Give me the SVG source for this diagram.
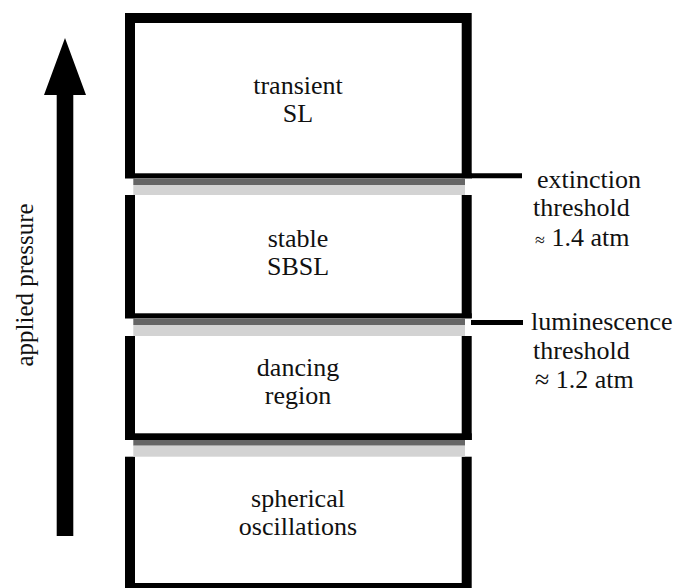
<svg xmlns="http://www.w3.org/2000/svg" width="676" height="588" viewBox="0 0 676 588">
<style>
.t{font-family:'Liberation Serif','DejaVu Serif',serif;font-size:26px;fill:#111;}
.c{text-anchor:middle;}
.dk{fill:#666;}
.lt{fill:#d3d3d3;}
.bk{fill:#000;}
</style>
<rect width="676" height="588" fill="#fff"/>
<g id="frame">
<rect x="130" y="18" width="336.7" height="570" fill="none" stroke="#000" stroke-width="10"/>
</g>
<g id="divider1">
<rect x="124" y="178.3" width="350" height="16.7" fill="#fff"/>
<rect class="bk" x="125" y="173.3" width="346.7" height="5"/>
<rect class="dk" x="133.3" y="178.3" width="331.7" height="6.7"/>
<rect class="lt" x="133.3" y="185" width="331.7" height="10"/>
</g>
<g id="divider2">
<rect x="124" y="318.3" width="350" height="17.7" fill="#fff"/>
<rect class="bk" x="125" y="313.3" width="346.7" height="5"/>
<rect class="dk" x="133.3" y="318.3" width="331.7" height="6.7"/>
<rect class="lt" x="133.3" y="325" width="331.7" height="11"/>
</g>
<g id="divider3">
<rect x="124" y="440" width="350" height="16.7" fill="#fff"/>
<rect class="bk" x="125" y="433.3" width="346.7" height="6.7"/>
<rect class="dk" x="133.3" y="440" width="331.7" height="5.7"/>
<rect class="lt" x="133.3" y="445.7" width="331.7" height="11"/>
</g>
<g id="connectors">
<line x1="471" y1="175.8" x2="522" y2="175.8" stroke="#000" stroke-width="5"/>
<line x1="471" y1="322.5" x2="523" y2="322.5" stroke="#000" stroke-width="5"/>
</g>
<g id="arrow">
<polygon class="bk" points="65,38 86,95 73.3,95 73.3,536 56.7,536 56.7,95 44,95"/>
<text class="t c" style="font-size:25px" transform="translate(33,285) rotate(-90)">applied pressure</text>
</g>
<g id="region-transient">
<text class="t c" x="298" y="94">transient<tspan x="298" dy="28">SL</tspan></text>
</g>
<g id="region-stable">
<text class="t c" x="298" y="247">stable<tspan x="298" dy="28">SBSL</tspan></text>
</g>
<g id="region-dancing">
<text class="t c" x="298" y="376">dancing<tspan x="298" dy="28">region</tspan></text>
</g>
<g id="region-spherical">
<text class="t c" x="298" y="507">spherical<tspan x="298" dy="28">oscillations</tspan></text>
</g>
<g id="label-extinction">
<text class="t" x="537" y="188">extinction<tspan x="533" dy="28">threshold</tspan><tspan x="535" dy="30"><tspan font-size="18">≈</tspan> 1.4 atm</tspan></text>
</g>
<g id="label-luminescence">
<text class="t" x="531" y="330">luminescence<tspan x="533" dy="29">threshold</tspan><tspan x="535" dy="29">≈ 1.2 atm</tspan></text>
</g>
</svg>
